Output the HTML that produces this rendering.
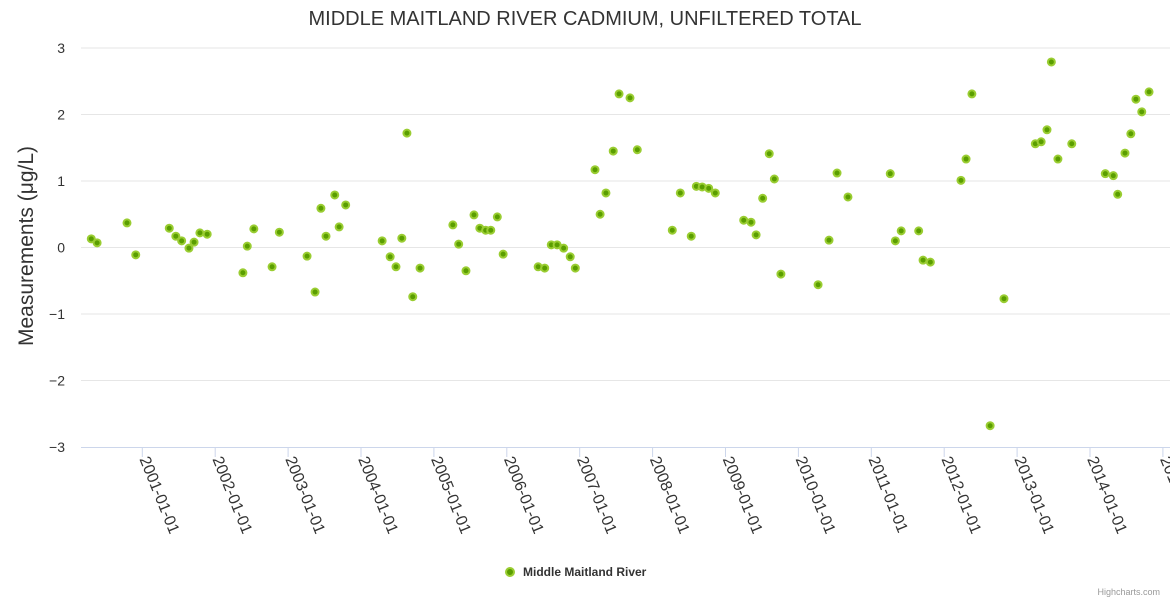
<!DOCTYPE html>
<html><head><meta charset="utf-8"><style>
body{margin:0;background:#fff;font-family:"Liberation Sans","DejaVu Sans",sans-serif}
svg{display:block}
</style></head><body>
<svg id="chart" width="1170" height="600">
<text x="585" y="25" text-anchor="middle" font-size="20" fill="#333">MIDDLE MAITLAND RIVER CADMIUM, UNFILTERED TOTAL</text>
<text transform="translate(33,246) rotate(-90)" text-anchor="middle" font-size="21" fill="#333">Measurements (μg/L)</text>
<g id="grid"></g><g id="xaxis"></g><g id="pts"></g>
<g>
<circle cx="510" cy="572" r="4" fill="#5a9e00" stroke="#9acd32" stroke-width="2"/>
<text x="523" y="576" font-size="12" font-weight="bold" fill="#333">Middle Maitland River</text></g>
<text x="1160" y="595" text-anchor="end" font-size="9" fill="#999">Highcharts.com</text>
</svg>
<script>
const dates=[2000.30,2000.38,2000.79,2000.91,2001.37,2001.46,2001.54,2001.64,2001.71,2001.79,2001.89,2002.38,2002.44,2002.53,2002.78,2002.88,2003.26,2003.37,2003.45,2003.52,2003.64,2003.70,2003.79,2004.29,2004.40,2004.48,2004.56,2004.63,2004.71,2004.81,2005.26,2005.34,2005.44,2005.55,2005.63,2005.71,2005.78,2005.87,2005.95,2006.43,2006.52,2006.61,2006.69,2006.78,2006.87,2006.94,2007.21,2007.28,2007.36,2007.46,2007.54,2007.69,2007.79,2008.27,2008.38,2008.53,2008.60,2008.68,2008.77,2008.86,2009.25,2009.35,2009.42,2009.51,2009.60,2009.67,2009.76,2010.27,2010.42,2010.53,2010.68,2011.26,2011.33,2011.41,2011.65,2011.71,2011.81,2012.23,2012.30,2012.38,2012.63,2012.82,2013.25,2013.33,2013.41,2013.47,2013.56,2013.75,2014.21,2014.32,2014.38,2014.48,2014.56,2014.63,2014.71,2014.81];
const values=[0.13,0.07,0.37,-0.11,0.29,0.17,0.1,-0.01,0.08,0.22,0.2,-0.38,0.02,0.28,-0.29,0.23,-0.13,-0.67,0.59,0.17,0.79,0.31,0.64,0.1,-0.14,-0.29,0.14,1.72,-0.74,-0.31,0.34,0.05,-0.35,0.49,0.29,0.26,0.26,0.46,-0.1,-0.29,-0.31,0.04,0.04,-0.01,-0.14,-0.31,1.17,0.5,0.82,1.45,2.31,2.25,1.47,0.26,0.82,0.17,0.92,0.91,0.89,0.82,0.41,0.38,0.19,0.74,1.41,1.03,-0.4,-0.56,0.11,1.12,0.76,1.11,0.1,0.25,0.25,-0.19,-0.22,1.01,1.33,2.31,-2.68,-0.77,1.56,1.59,1.77,2.79,1.33,1.56,1.11,1.08,0.8,1.42,1.71,2.23,2.04,2.34];
const yTicks=[3,2,1,0,-1,-2,-3];
const yTickLabels=["3","2","1","0","−1","−2","−3"];
const xTicks=[2001,2002,2003,2004,2005,2006,2007,2008,2009,2010,2011,2012,2013,2014,2015];
const NS="http://www.w3.org/2000/svg";
function X(yr){return 142.3+(yr-2001)*72.9;}
function Y(v){return 247.5-v*66.5;}
function mk(t,a,p){const e=document.createElementNS(NS,t);for(const k in a)e.setAttribute(k,a[k]);p.appendChild(e);return e;}
const g=document.getElementById('grid'),xa=document.getElementById('xaxis'),pg=document.getElementById('pts');
yTicks.forEach((v,i)=>{
  if(v!==-3){const l=mk('line',{x1:81,x2:1170,y1:Y(v),y2:Y(v),stroke:'#e6e6e6'},g);
  
  }
  const t=mk('text',{x:65,y:Y(v)+5,'text-anchor':'end','font-size':14,fill:'#333'},g);t.textContent=yTickLabels[i];
  
  
});
const ax=mk('line',{x1:81,x2:1170,y1:447.5,y2:447.5,stroke:'#ccd6eb'},xa);


xTicks.forEach(yr=>{
  const x=X(yr);
  const tk=mk('line',{x1:x,x2:x,y1:447.5,y2:457,stroke:'#ccd6eb'},xa);
  
  
  const t=mk('text',{transform:`translate(${x-3},459) rotate(68)`,'font-size':16,fill:'#333'},xa);
  t.textContent=yr+'-01-01';
  
  
});
dates.forEach((d,i)=>{
  const c=mk('circle',{cx:X(d),cy:Y(values[i]),r:3.5,fill:'#5a9e00',stroke:'#9acd32','stroke-width':2},pg);
  
  
});
</script>
</body></html>
